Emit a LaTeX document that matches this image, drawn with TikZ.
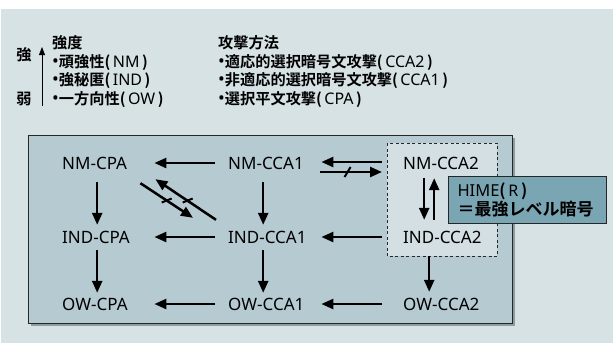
\documentclass[tikz,border=0pt]{standalone}
\usepackage{fontspec}
\setmainfont{Noto Sans}
\newfontfamily\jpb{Noto Sans CJK JP Bold}
\usetikzlibrary{arrows.meta,calc}
\definecolor{fond}{HTML}{D7E2E5}
\definecolor{boite}{HTML}{B6CAD2}
\definecolor{ombre}{HTML}{8E9CA1}
\definecolor{interieur}{HTML}{D3DFE3}
\definecolor{hime}{HTML}{7AA6B3}
\newcommand\kakko[1]{{\jpb(}\,{\fontsize{16}{16}\selectfont #1}\,{\jpb)}}
\newcommand\puce{{\fontsize{18}{16}\selectfont •}}
\newcommand\sanscoupure{\exhyphenpenalty=10000 \hbadness=10000 \hfuzz=50pt\relax}
\tikzset{
    lbl/.style={anchor=west,inner sep=0pt,text width=70pt,align=left,text height=12pt,text depth=0pt,font=\fontsize{17}{17}\selectfont,execute at begin node=\sanscoupure},
    txt/.style={anchor=west,inner sep=0pt,text height=13pt,text depth=2pt,font=\fontsize{15.2}{16}\selectfont},
    fleche/.style={line width=2.5pt,-{Triangle[length=12pt,width=10pt]}},
    trait/.style={line width=2pt},
  }
\begin{document}
\begin{tikzpicture}[x=1pt,y=-1pt]
	\useasboundingbox (0,0) rectangle (613,349);
	%fond et cadre
	\fill[fond] (1,9) rectangle (613,343);
	\fill[ombre] (31,138) rectangle (515,326);
	\filldraw[fill=boite,draw=black!85,line width=1pt] (28,135) rectangle (512,323);
	\filldraw[fill=interieur,draw=black!85,line width=0.8pt,dash pattern=on 3pt off 2.5pt] (387,143) rectangle (497,256);
	%legende
	\node[txt] (force) at (52,43) {\jpb 強度};
	\node[txt] (nm) at (52,62) {\puce{\jpb 頑強性}\kakko{NM}};
	\node[txt] (ind) at (52,80) {\puce{\jpb 強秘匿}\kakko{IND}};
	\node[txt] (ow) at (52,99) {\puce{\jpb 一方向性}\kakko{OW}};
	\node[txt] (attaque) at (218,43) {\jpb 攻撃方法};
	\node[txt] (cca2) at (218,62) {\puce{\jpb 適応的選択暗号文攻撃}\kakko{CCA2}};
	\node[txt] (cca1) at (218,80) {\puce{\jpb 非適応的選択暗号文攻撃}\kakko{CCA1}};
	\node[txt] (cpa) at (218,99) {\puce{\jpb 選択平文攻撃}\kakko{CPA}};
	\node[txt,anchor=center] (fort) at (24,55) {\jpb 強};
	\node[txt,anchor=center] (faible) at (24,99) {\jpb 弱};
	\coordinate (bas) at (42,106);
	\coordinate (haut) at (42,47);
	\draw[line width=0.9pt,-{Triangle[length=8pt,width=6pt]}] (bas) -- (haut);
	%notions
	\node[lbl] (nmcpa) at (62,163) {NM-CPA};
	\node[lbl] (nmcca1) at (228,163) {NM-CCA1};
	\node[lbl] (nmcca2) at (403,163) {NM-CCA2};
	\node[lbl] (indcpa) at (62,237) {IND-CPA};
	\node[lbl] (indcca1) at (228,237) {IND-CCA1};
	\node[lbl] (indcca2) at (403,237) {IND-CCA2};
	\node[lbl] (owcpa) at (62,304) {OW-CPA};
	\node[lbl] (owcca1) at (228,304) {OW-CCA1};
	\node[lbl] (owcca2) at (403,304) {OW-CCA2};
	%implications horizontales
	\draw[fleche,shorten <=13pt,shorten >=22pt] (nmcca1.west) -- (nmcpa.east);
	\draw[fleche,shorten <=13pt,shorten >=22pt] (indcca1.west) -- (indcpa.east);
	\draw[fleche,shorten <=13pt,shorten >=22pt] (owcca1.west) -- (owcpa.east);
	\draw[fleche,shorten <=21pt,shorten >=23pt] ([yshift=1pt]nmcca2.west) -- ([yshift=1pt]nmcca1.east);
	\draw[fleche,shorten <=22pt,shorten >=21pt] ([yshift=-9pt]nmcca1.east) -- coordinate[pos=.47] (barre) ([yshift=-9pt]nmcca2.west);
	\draw[trait] (barre) +(-3,5) -- +(3,-5);
	\draw[fleche,shorten <=21pt,shorten >=23pt] (indcca2.west) -- (indcca1.east);
	\draw[fleche,shorten <=21pt,shorten >=23pt] (owcca2.west) -- (owcca1.east);
	%implications verticales
	\draw[fleche,shorten <=13pt,shorten >=6pt] (nmcpa.south) -- (indcpa.north);
	\draw[fleche,shorten <=7pt,shorten >=5pt] (indcpa.south) -- (owcpa.north);
	\draw[fleche,shorten <=13pt,shorten >=6pt] (nmcca1.south) -- (indcca1.north);
	\draw[fleche,shorten <=7pt,shorten >=5pt] (indcca1.south) -- (owcca1.north);
	\draw[fleche,shorten <=9pt,shorten >=11pt] ([xshift=-14pt]nmcca2.south) -- ([xshift=-14pt]indcca2.north);
	\draw[fleche,shorten <=11pt,shorten >=9pt] ([xshift=-4pt]indcca2.north) -- ([xshift=-4pt]nmcca2.south);
	\draw[fleche,shorten <=13pt,shorten >=6pt] ([xshift=-9pt]indcca2.south) -- ([xshift=-9pt]owcca2.north);
	%separations
	\draw[fleche] ([shift={(8,14)}]nmcpa.south east) -- coordinate[pos=.5] (barre1) ([shift={(-35,-13)}]indcca1.north west);
	\draw[fleche] ([shift={(-12,-11)}]indcca1.north west) -- coordinate[pos=.5] (barre2) ([shift={(23,10)}]nmcpa.south east);
	\draw[trait] (barre1) +(-5,2) -- +(5,-2);
	\draw[trait] (barre2) +(-3,3) -- +(7,-1);
	%HIME
	\node[draw=black!85,fill=hime,line width=1pt,anchor=north west,text width=140pt,inner xsep=9pt,inner ysep=3pt,minimum height=47pt,align=left,font=\fontsize{16.5}{18.5}\selectfont] (himebox) at (448,176) {HIME\kakko{R}\\{\jpb\fontsize{17}{18.5}\selectfont ＝最強レベル暗号}};
\end{tikzpicture}
\end{document}
